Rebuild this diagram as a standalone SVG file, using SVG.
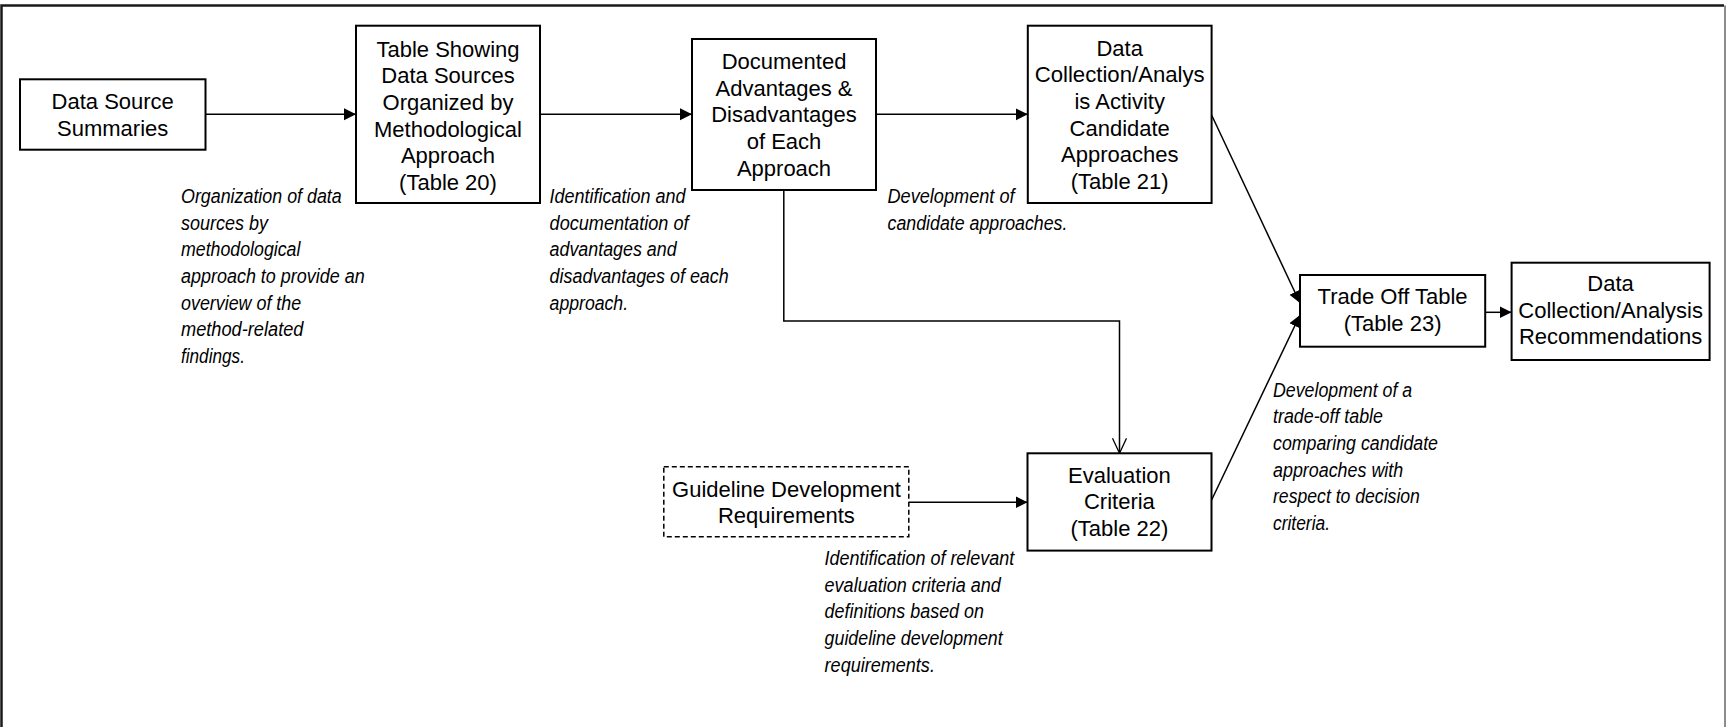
<svg xmlns="http://www.w3.org/2000/svg" width="1726" height="727" viewBox="0 0 1726 727">
<style>
.box{fill:#fff;stroke:#000;stroke-width:2}
.dash{fill:#fff;stroke:#000;stroke-width:1.5;stroke-dasharray:5 3}
.nt{font-family:"Liberation Sans",Arial,sans-serif;font-size:22px;fill:#000;text-anchor:middle}
.an{font-family:"Liberation Sans",Arial,sans-serif;font-size:20px;font-style:italic;fill:#000}
.ln{fill:none;stroke:#000;stroke-width:1.5}
</style>
<defs>
<marker id="fa" markerUnits="userSpaceOnUse" markerWidth="13" markerHeight="13" refX="12" refY="6" orient="auto">
<path d="M0,0 L12,6 L0,12 z" fill="#000"/>
</marker>
<marker id="va" markerUnits="userSpaceOnUse" markerWidth="17" markerHeight="16" refX="15.5" refY="7.5" orient="auto">
<path d="M0.5,0.5 L15.5,7.5 L0.5,14.5" fill="none" stroke="#000" stroke-width="1.3"/>
</marker>
</defs>
<rect x="0" y="0" width="1726" height="727" fill="#fff"/>
<path d="M1.5,727 V5.5 H1724" fill="none" stroke="#1a1a1a" stroke-width="2.5"/>
<path d="M1725,5.5 V727" fill="none" stroke="#666" stroke-width="1.5"/>

<g id="connectors">
<line class="ln" x1="205.5" y1="114.3" x2="356" y2="114.3" marker-end="url(#fa)"/>
<line class="ln" x1="540" y1="114.3" x2="692" y2="114.3" marker-end="url(#fa)"/>
<line class="ln" x1="876" y1="114.3" x2="1027.8" y2="114.3" marker-end="url(#fa)"/>
<polyline class="ln" points="783.8,190 783.8,321 1119.5,321 1119.5,453.3" marker-end="url(#va)"/>
<line class="ln" x1="1211.6" y1="115" x2="1300" y2="303" marker-end="url(#fa)"/>
<line class="ln" x1="1211.6" y1="500" x2="1300" y2="315" marker-end="url(#fa)"/>
<line class="ln" x1="1485.2" y1="312.3" x2="1511.6" y2="312.3" marker-end="url(#fa)"/>
<line class="ln" x1="908.9" y1="502.3" x2="1027.5" y2="502.3" marker-end="url(#fa)"/>
</g>

<g id="n-dss">
<rect class="box" x="20" y="79.3" width="185.5" height="70.4"/>
<text class="nt" x="112.7" y="109">Data Source</text>
<text class="nt" x="112.7" y="136">Summaries</text>
</g>

<g id="n-table20">
<rect class="box" x="356" y="25.7" width="184" height="177.3"/>
<text class="nt" x="448" y="56.7">Table Showing</text>
<text class="nt" x="448" y="83.3">Data Sources</text>
<text class="nt" x="448" y="110">Organized by</text>
<text class="nt" x="448" y="136.7">Methodological</text>
<text class="nt" x="448" y="163.3">Approach</text>
<text class="nt" x="448" y="190">(Table 20)</text>
</g>

<g id="n-documented">
<rect class="box" x="692" y="39" width="184" height="151"/>
<text class="nt" x="784" y="69">Documented</text>
<text class="nt" x="784" y="95.7">Advantages &amp;</text>
<text class="nt" x="784" y="122.3">Disadvantages</text>
<text class="nt" x="784" y="149">of Each</text>
<text class="nt" x="784" y="175.7">Approach</text>
</g>

<g id="n-table21">
<rect class="box" x="1027.8" y="25.7" width="183.8" height="177.3"/>
<text class="nt" x="1119.7" y="55.7">Data</text>
<text class="nt" x="1119.7" y="82.3" textLength="170" lengthAdjust="spacingAndGlyphs">Collection/Analys</text>
<text class="nt" x="1119.7" y="109">is Activity</text>
<text class="nt" x="1119.7" y="135.7">Candidate</text>
<text class="nt" x="1119.7" y="162.3">Approaches</text>
<text class="nt" x="1119.7" y="189">(Table 21)</text>
</g>

<g id="n-tradeoff">
<rect class="box" x="1300" y="275" width="185.2" height="71.7"/>
<text class="nt" x="1392.6" y="304.3">Trade Off Table</text>
<text class="nt" x="1392.6" y="331">(Table 23)</text>
</g>

<g id="n-recommendations">
<rect class="box" x="1511.6" y="262.7" width="198" height="97.3"/>
<text class="nt" x="1610.6" y="291">Data</text>
<text class="nt" x="1610.6" y="317.7">Collection/Analysis</text>
<text class="nt" x="1610.6" y="344.3">Recommendations</text>
</g>

<g id="n-guideline">
<rect class="dash" x="663.8" y="466.7" width="245" height="70"/>
<text class="nt" x="786.4" y="496.7">Guideline Development</text>
<text class="nt" x="786.4" y="523.3">Requirements</text>
</g>

<g id="n-evaluation">
<rect class="box" x="1027.5" y="453.3" width="184" height="97.3"/>
<text class="nt" x="1119.4" y="482.7">Evaluation</text>
<text class="nt" x="1119.4" y="509.3">Criteria</text>
<text class="nt" x="1119.4" y="536">(Table 22)</text>
</g>

<g id="annotations">
<text class="an" x="181" y="203" textLength="160.7" lengthAdjust="spacingAndGlyphs">Organization of data</text>
<text class="an" x="181" y="229.7" textLength="86.9" lengthAdjust="spacingAndGlyphs">sources by</text>
<text class="an" x="181" y="256.3" textLength="119.4" lengthAdjust="spacingAndGlyphs">methodological</text>
<text class="an" x="181" y="283" textLength="183.7" lengthAdjust="spacingAndGlyphs">approach to provide an</text>
<text class="an" x="181" y="309.7" textLength="120.2" lengthAdjust="spacingAndGlyphs">overview of the</text>
<text class="an" x="181" y="336.3" textLength="122.5" lengthAdjust="spacingAndGlyphs">method-related</text>
<text class="an" x="181" y="363" textLength="63.9" lengthAdjust="spacingAndGlyphs">findings.</text>

<text class="an" x="549.6" y="203" textLength="135.9" lengthAdjust="spacingAndGlyphs">Identification and</text>
<text class="an" x="549.6" y="229.7" textLength="138.9" lengthAdjust="spacingAndGlyphs">documentation of</text>
<text class="an" x="549.6" y="256.3" textLength="127" lengthAdjust="spacingAndGlyphs">advantages and</text>
<text class="an" x="549.6" y="283" textLength="179.1" lengthAdjust="spacingAndGlyphs">disadvantages of each</text>
<text class="an" x="549.6" y="309.7" textLength="78.5" lengthAdjust="spacingAndGlyphs">approach.</text>

<text class="an" x="887.5" y="203" textLength="127" lengthAdjust="spacingAndGlyphs">Development of</text>
<text class="an" x="887.5" y="229.7" textLength="179.9" lengthAdjust="spacingAndGlyphs">candidate approaches.</text>

<text class="an" x="824.6" y="565" textLength="189.7" lengthAdjust="spacingAndGlyphs">Identification of relevant</text>
<text class="an" x="824.6" y="591.7" textLength="176.3" lengthAdjust="spacingAndGlyphs">evaluation criteria and</text>
<text class="an" x="824.6" y="618.3" textLength="159.4" lengthAdjust="spacingAndGlyphs">definitions based on</text>
<text class="an" x="824.6" y="645" textLength="178.1" lengthAdjust="spacingAndGlyphs">guideline development</text>
<text class="an" x="824.6" y="671.7" textLength="110.3" lengthAdjust="spacingAndGlyphs">requirements.</text>

<text class="an" x="1273" y="396.7" textLength="139.2" lengthAdjust="spacingAndGlyphs">Development of a</text>
<text class="an" x="1273" y="423.3" textLength="110" lengthAdjust="spacingAndGlyphs">trade-off table</text>
<text class="an" x="1273" y="450" textLength="165" lengthAdjust="spacingAndGlyphs">comparing candidate</text>
<text class="an" x="1273" y="476.7" textLength="130.2" lengthAdjust="spacingAndGlyphs">approaches with</text>
<text class="an" x="1273" y="503.3" textLength="146.9" lengthAdjust="spacingAndGlyphs">respect to decision</text>
<text class="an" x="1273" y="530" textLength="57" lengthAdjust="spacingAndGlyphs">criteria.</text>
</g>
</svg>
